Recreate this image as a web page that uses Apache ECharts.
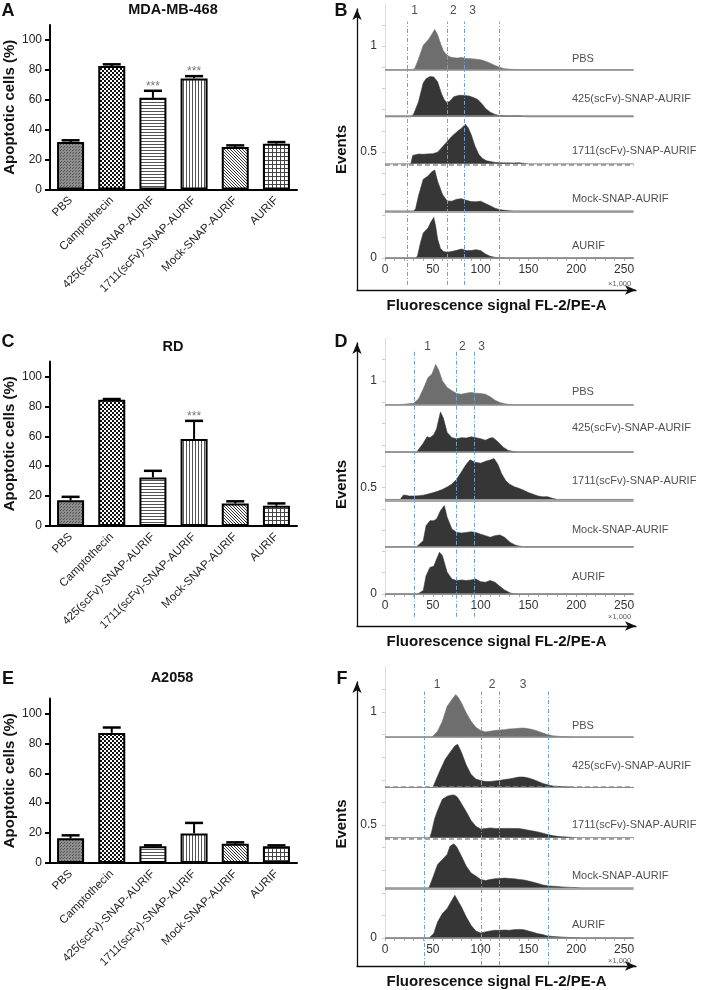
<!DOCTYPE html>
<html>
<head>
<meta charset="utf-8">
<script src="https://cdn.jsdelivr.net/npm/echarts@6/dist/echarts.min.js"></script>
<style>
  html, body { margin: 0; padding: 0; background: #fff; }
  #chart { width: 704px; height: 990px; }
</style>
</head>
<body>
<div id="chart"></div>
<script>
// ---- bar panels (A, C, E) ----
const treatments = ['PBS', 'Camptothecin', '425(scFv)-SNAP-AURIF', '1711(scFv)-SNAP-AURIF', 'Mock-SNAP-AURIF', 'AURIF'];
const yTicks = [0, 20, 40, 60, 80, 100];

const mdaMean = [31.7, 82.6, 61.3, 74.3, 28.4, 30.6];
const mdaErr = [1.2, 1.1, 4.7, 1.5, 1.1, 1.1];
const mdaSig = ['', '', '***', '***', '', ''];

const rdMean = [17.2, 84.4, 32.5, 58.2, 15, 13.5];
const rdErr = [2.3, 0.5, 4.4, 12.1, 1.5, 1.6];
const rdSig = ['', '', '', '***', '', ''];

const a2058Mean = [16.5, 87, 11.2, 19.8, 12.8, 11.2];
const a2058Err = [2, 3.6, 0.6, 7, 1, 0.6];
const a2058Sig = ['', '', '', '', '', ''];

// ---- histogram panels (B, D, F) ----
const histNames = ['PBS', '425(scFv)-SNAP-AURIF', '1711(scFv)-SNAP-AURIF', 'Mock-SNAP-AURIF', 'AURIF'];
const histOffsets = [0.888, 0.666, 0.444, 0.222, 0];
const xTicks = [0, 50, 100, 150, 200, 250];
const eventTicks = [0, 0.5, 1];

// [fluorescence (x1,000), height]
const bPBS = [[0,0],[28,0],[31,0.005],[35,0.05],[40,0.115],[45,0.14],[48,0.16],[52,0.19],[55,0.165],[58,0.125],[61,0.09],[64,0.072],[68,0.06],[72,0.057],[76,0.055],[80,0.058],[85,0.053],[90,0.052],[95,0.05],[100,0.047],[105,0.04],[110,0.031],[115,0.02],[120,0.011],[125,0.005],[132,0.002],[140,0],[260,0]];
const b425 = [[0,0],[27,0],[30,0.013],[35,0.07],[40,0.16],[43,0.18],[47,0.19],[51,0.188],[55,0.165],[59,0.11],[62,0.08],[65,0.066],[68,0.075],[72,0.095],[78,0.102],[83,0.1],[88,0.098],[93,0.09],[97,0.082],[101,0.063],[105,0.04],[110,0.022],[115,0.011],[120,0.006],[130,0.004],[140,0.005],[146,0.001],[150,0],[260,0]];
const b1711 = [[0,0],[27,0],[29,0.04],[35,0.046],[40,0.045],[45,0.047],[50,0.048],[55,0.055],[60,0.08],[65,0.105],[70,0.13],[75,0.15],[80,0.168],[84,0.187],[87,0.17],[90,0.14],[94,0.085],[98,0.045],[102,0.025],[106,0.015],[110,0.011],[115,0.007],[120,0.005],[135,0.004],[140,0.005],[146,0.002],[150,0],[260,0]];
const bMock = [[0,0],[30,0],[32,0.01],[35,0.07],[40,0.149],[45,0.165],[49,0.185],[52,0.193],[55,0.14],[60,0.079],[65,0.047],[70,0.046],[75,0.055],[80,0.058],[85,0.05],[90,0.044],[95,0.043],[100,0.046],[105,0.035],[110,0.024],[115,0.013],[120,0.006],[125,0.003],[130,0.001],[135,0],[260,0]];
const bAURIF = [[0,0],[32,0],[34,0.01],[37,0.07],[40,0.118],[45,0.141],[48,0.17],[51,0.191],[53,0.15],[55,0.09],[58,0.045],[61,0.031],[65,0.027],[70,0.031],[75,0.036],[80,0.042],[85,0.035],[90,0.035],[95,0.039],[100,0.035],[105,0.019],[110,0.008],[115,0.003],[120,0.001],[125,0],[260,0]];

const dPBS = [[0,0],[15,0],[20,0.003],[25,0.005],[30,0.007],[35,0.027],[40,0.074],[45,0.128],[49,0.144],[53,0.19],[56,0.165],[60,0.113],[65,0.081],[70,0.066],[75,0.053],[80,0.05],[85,0.055],[90,0.058],[95,0.055],[100,0.053],[105,0.05],[110,0.038],[115,0.022],[120,0.011],[125,0.005],[130,0.002],[135,0],[260,0]];
const d425 = [[0,0],[33,0],[35,0.008],[40,0.042],[44,0.072],[47,0.068],[51,0.082],[54,0.11],[58,0.188],[61,0.16],[65,0.092],[70,0.068],[75,0.063],[80,0.068],[85,0.066],[90,0.072],[95,0.068],[100,0.063],[105,0.056],[110,0.066],[113,0.068],[118,0.049],[124,0.022],[129,0.008],[135,0.002],[140,0],[260,0]];
const d1711 = [[0,0],[16,0],[19,0.02],[22,0.02],[25,0.016],[30,0.016],[35,0.017],[40,0.02],[45,0.025],[50,0.031],[55,0.038],[60,0.047],[65,0.058],[70,0.072],[75,0.095],[80,0.13],[85,0.165],[89,0.186],[94,0.175],[100,0.17],[106,0.18],[110,0.185],[114,0.192],[118,0.165],[122,0.12],[126,0.09],[130,0.072],[135,0.06],[140,0.052],[145,0.043],[150,0.032],[155,0.024],[160,0.016],[165,0.012],[170,0.013],[175,0.005],[180,0],[260,0]];
const dMock = [[0,0],[33,0],[35,0.008],[40,0.028],[43,0.099],[47,0.122],[51,0.122],[54,0.13],[58,0.169],[62,0.193],[65,0.138],[70,0.083],[75,0.067],[80,0.064],[85,0.067],[90,0.07],[95,0.067],[100,0.059],[105,0.052],[110,0.044],[115,0.052],[120,0.055],[125,0.044],[131,0.02],[136,0.008],[140,0.003],[145,0],[260,0]];
const dAURIF = [[0,0],[34,0],[36,0.003],[40,0.016],[43,0.086],[47,0.125],[51,0.13],[54,0.164],[57,0.196],[60,0.18],[65,0.102],[70,0.07],[75,0.063],[80,0.066],[85,0.063],[90,0.066],[95,0.07],[100,0.058],[105,0.055],[110,0.063],[115,0.055],[120,0.036],[125,0.019],[131,0.005],[135,0],[260,0]];

const fPBS = [[0,0],[49,0],[51,0.005],[55,0.027],[60,0.071],[65,0.137],[70,0.167],[74,0.189],[77,0.174],[80,0.152],[85,0.108],[90,0.071],[95,0.044],[100,0.03],[105,0.024],[110,0.027],[115,0.03],[120,0.032],[125,0.034],[130,0.037],[135,0.038],[140,0.04],[145,0.041],[150,0.038],[155,0.034],[160,0.027],[165,0.019],[170,0.012],[175,0.007],[180,0.005],[185,0.003],[190,0.002],[200,0],[260,0]];
const f425 = [[0,0],[50,0],[52,0.006],[57,0.07],[63,0.125],[68,0.155],[73,0.184],[76,0.191],[80,0.155],[85,0.099],[90,0.058],[95,0.037],[100,0.031],[105,0.026],[110,0.026],[115,0.029],[120,0.031],[125,0.035],[130,0.038],[135,0.042],[140,0.046],[145,0.046],[150,0.042],[155,0.035],[160,0.027],[165,0.018],[170,0.012],[175,0.007],[180,0.005],[185,0.004],[190,0.003],[196,0.001],[200,0],[260,0]];
const f1711 = [[0,0],[47,0],[49,0.03],[52,0.085],[55,0.12],[60,0.17],[65,0.183],[70,0.189],[73,0.188],[76,0.178],[80,0.15],[85,0.115],[90,0.076],[95,0.05],[100,0.038],[105,0.04],[110,0.043],[115,0.041],[120,0.04],[125,0.041],[130,0.041],[135,0.04],[140,0.04],[145,0.037],[150,0.033],[155,0.029],[160,0.025],[165,0.02],[170,0.014],[175,0.009],[180,0.006],[185,0.004],[190,0.003],[196,0.001],[200,0],[260,0]];
const fMock = [[0,0],[46,0],[47,0.007],[50,0.045],[55,0.103],[60,0.125],[65,0.148],[68,0.184],[72,0.195],[75,0.181],[80,0.14],[85,0.096],[90,0.066],[95,0.052],[100,0.037],[105,0.032],[110,0.037],[115,0.04],[120,0.041],[125,0.043],[130,0.041],[135,0.04],[140,0.037],[145,0.035],[150,0.03],[155,0.025],[160,0.019],[165,0.013],[170,0.009],[175,0.007],[180,0.006],[185,0.004],[190,0.003],[195,0.002],[200,0.001],[205,0],[260,0]];
const fAURIF = [[0,0],[46,0],[48,0.003],[51,0.02],[55,0.071],[60,0.108],[65,0.13],[70,0.167],[73,0.189],[77,0.159],[80,0.137],[85,0.093],[90,0.056],[95,0.031],[100,0.022],[105,0.027],[110,0.031],[115,0.034],[120,0.034],[125,0.035],[130,0.034],[135,0.037],[140,0.038],[145,0.037],[150,0.031],[155,0.025],[160,0.019],[165,0.015],[170,0.009],[175,0.007],[180,0.005],[185,0.004],[190,0.003],[195,0.002],[200,0.001],[205,0],[260,0]];

// gate positions and region labels (x1,000)
const gatesB = [23.5, 65.4, 83.2, 119.4];
const gateLabelsB = [31.5, 72, 92];
const gatesD = [31, 74, 93.5];
const gateLabelsD = [45, 81.5, 101.5];
const gatesF = [41, 101, 120, 171];
const gateLabelsF = [55, 112.5, 145];

const labelYB = [0.936, 0.749, 0.501, 0.275, 0.053];
const labelYD = [0.945, 0.775, 0.527, 0.3, 0.077];
const labelYF = [0.935, 0.758, 0.497, 0.271, 0.054];

const font = '"Liberation Sans", Arial, sans-serif';

// hatch fills for the bars
function pattern(size, bg, fg, draw) {
  const c = document.createElement('canvas');
  c.width = size;
  c.height = size;
  const g = c.getContext('2d');
  g.fillStyle = bg;
  g.fillRect(0, 0, size, size);
  g.fillStyle = fg;
  draw(g, size);
  return { image: c, repeat: 'repeat' };
}
const fills = [
  pattern(3, '#8e8e8e', '#555', (g) => { g.fillRect(0, 0, 1, 1); g.fillRect(1, 2, 1, 1); }),
  pattern(4, '#fff', '#111', (g) => { g.fillRect(0, 0, 2, 2); g.fillRect(2, 2, 2, 2); }),
  pattern(3, '#fff', '#555', (g) => { g.fillRect(0, 0, 3, 1); }),
  pattern(3, '#fff', '#555', (g) => { g.fillRect(0, 0, 1, 3); }),
  pattern(3, '#fff', '#333', (g) => { for (let i = 0; i < 3; i++) g.fillRect(i, i, 1, 1); }),
  pattern(4, '#fff', '#444', (g) => { g.fillRect(0, 0, 4, 1); g.fillRect(0, 0, 1, 4); })
];

const grid = [];
const xAxis = [];
const yAxis = [];
const series = [];

function addBarPanel(top, mean, err, sig) {
  const gi = grid.length;
  grid.push({ left: 50, top: top, width: 247, height: 164.5 });
  xAxis.push({
    gridIndex: gi, type: 'category', data: treatments,
    axisLine: { lineStyle: { color: '#000', width: 2 } },
    axisTick: { alignWithLabel: true, length: 5, lineStyle: { color: '#000', width: 2 } },
    axisLabel: { rotate: 45, interval: 0, fontSize: 11.5, color: '#222', margin: 9, fontFamily: font }
  });
  yAxis.push({
    gridIndex: gi, type: 'value', min: 0, max: 110,
    axisLine: { show: true, lineStyle: { color: '#000', width: 2 } },
    axisTick: { show: true, length: 5, customValues: yTicks, lineStyle: { color: '#000', width: 2 } },
    axisLabel: { customValues: yTicks, fontSize: 12, color: '#222', margin: 8, fontFamily: font },
    splitLine: { show: false },
    name: 'Apoptotic cells (%)', nameLocation: 'middle', nameGap: 33,
    nameTextStyle: { fontFamily: font, fontWeight: 'bold', fontSize: 15, color: '#111' }
  });
  series.push({
    type: 'bar', xAxisIndex: gi, yAxisIndex: gi, barWidth: 27, silent: true,
    itemStyle: { borderColor: '#000', borderWidth: 2 },
    data: mean.map((v, i) => ({ value: v, itemStyle: { color: fills[i] } }))
  });
  series.push({
    type: 'custom', xAxisIndex: gi, yAxisIndex: gi, z: 5, silent: true,
    data: mean.map((v, i) => [i, v, err[i]]),
    renderItem: (params, api) => {
      const base = api.coord([api.value(0), api.value(1)]);
      const top = api.coord([api.value(0), api.value(1) + api.value(2)]);
      const kids = [
        { type: 'line', shape: { x1: base[0], y1: base[1], x2: top[0], y2: top[1] }, style: { stroke: '#000', lineWidth: 2 } },
        { type: 'line', shape: { x1: top[0] - 9, y1: top[1], x2: top[0] + 9, y2: top[1] }, style: { stroke: '#000', lineWidth: 2.5 } }
      ];
      const s = sig[params.dataIndex];
      if (s) {
        kids.push({ type: 'text', style: { text: s, x: top[0], y: top[1] - 4, align: 'center', verticalAlign: 'middle', fill: '#777', font: '12px ' + font } });
      }
      return { type: 'group', children: kids };
    }
  });
}

// y0: pixel row of value 0, unit: pixels per 1.0 on the Events axis
function addHistPanel(outer, y0, unit, hists, labelY, gates, gateRange, gateLabels, gateLabelY, kiloY, dashed) {
  const go = grid.length;
  grid.push(outer);
  const arrowLine = { show: true, symbol: ['none', 'arrow'], symbolSize: [7, 11], lineStyle: { color: '#111', width: 1.3 } };
  xAxis.push({
    gridIndex: go, type: 'value', min: 0, max: 1,
    axisLine: arrowLine, axisTick: { show: false }, axisLabel: { show: false }, splitLine: { show: false },
    name: 'Fluorescence signal FL-2/PE-A', nameLocation: 'middle', nameGap: 8,
    nameTextStyle: { fontFamily: font, fontWeight: 'bold', fontSize: 15, color: '#111', verticalAlign: 'top' }
  });
  yAxis.push({
    gridIndex: go, type: 'value', min: 0, max: 1,
    axisLine: arrowLine, axisTick: { show: false }, axisLabel: { show: false }, splitLine: { show: false },
    name: 'Events', nameLocation: 'middle', nameGap: 8,
    nameTextStyle: { fontFamily: font, fontWeight: 'bold', fontSize: 15, color: '#111' }
  });

  // data grid: Events 0..1.2
  const gi = grid.length;
  grid.push({ left: 385, width: 248.6, top: y0 - 1.2 * unit, height: 1.2 * unit });
  xAxis.push({
    gridIndex: gi, type: 'value', min: 0, max: 260,
    axisLine: { show: true, lineStyle: { color: '#999', width: 1 } },
    axisTick: { show: true, length: 3, customValues: [0, 10, 20, 30, 40, 50, 60, 70, 80, 90, 100, 110, 120, 130, 140, 150, 160, 170, 180, 190, 200, 210, 220, 230, 240, 250], lineStyle: { color: '#aaa' } },
    axisLabel: { customValues: xTicks, fontSize: 12, color: '#333', margin: 6, fontFamily: font },
    splitLine: { show: false }
  });
  yAxis.push({
    gridIndex: gi, type: 'value', min: 0, max: 1.2,
    axisLine: { show: true, lineStyle: { color: '#ddd', width: 1 } },
    axisTick: { show: true, length: 3, customValues: [0, 0.1, 0.2, 0.3, 0.4, 0.5, 0.6, 0.7, 0.8, 0.9, 1, 1.1], lineStyle: { color: '#ccc' } },
    axisLabel: { customValues: eventTicks, fontSize: 12, color: '#333', margin: 8, fontFamily: font },
    splitLine: { show: false }
  });

  // overlay grid reaching below the axis, for the gate lines
  const gv = grid.length;
  grid.push({ left: 385, width: 248.6, top: y0 - 1.2 * unit, height: 1.33 * unit });
  xAxis.push({ gridIndex: gv, type: 'value', min: 0, max: 260, show: false });
  yAxis.push({ gridIndex: gv, type: 'value', min: -0.13, max: 1.2, show: false });

  // lowest strip first, so upper strips sit on top
  for (let k = hists.length - 1; k >= 0; k--) {
    const base = histOffsets[k];
    const col = k === 0 ? '#6e6e6e' : '#363636';
    series.push({
      type: 'line', xAxisIndex: gi, yAxisIndex: gi, silent: true,
      symbol: 'none', showSymbol: false,
      data: hists[k].map((p) => [p[0], base + p[1]]),
      lineStyle: { color: col, width: 0.6 },
      areaStyle: { color: col, opacity: 1, origin: base },
      markLine: {
        silent: true, symbol: 'none', label: { show: false },
        lineStyle: { color: '#8a8a8a', width: 1.5, type: dashed.indexOf(k) >= 0 ? [5, 3] : 'solid' },
        data: [{ yAxis: base }]
      }
    });
  }

  series.push({
    type: 'scatter', xAxisIndex: gi, yAxisIndex: gi, silent: true, symbolSize: 1,
    itemStyle: { color: 'rgba(0,0,0,0)' },
    data: histNames.map((n, k) => ({ name: n, value: [196, labelY[k]] })),
    label: { show: true, position: [0, 0], align: 'left', verticalAlign: 'middle', formatter: '{b}', fontSize: 11, color: '#222', fontFamily: font }
  });

  series.push({
    type: 'scatter', xAxisIndex: gv, yAxisIndex: gv, silent: true, symbolSize: 1,
    itemStyle: { color: 'rgba(0,0,0,0)' },
    data: gateLabels.map((x, i) => ({ name: String(i + 1), value: [x, gateLabelY] })),
    label: { show: true, position: [0, 0], align: 'center', verticalAlign: 'middle', formatter: '{b}', fontSize: 12, color: '#222', fontFamily: font },
    markLine: {
      silent: true, symbol: 'none', label: { show: false },
      lineStyle: { color: '#6a9fd8', width: 1, type: [4, 2, 1, 2] },
      data: gates.map((g) => [{ coord: [g, gateRange[0]] }, { coord: [g, gateRange[1]] }])
    }
  });

  series.push({
    type: 'scatter', xAxisIndex: gv, yAxisIndex: gv, silent: true, symbolSize: 1,
    itemStyle: { color: 'rgba(0,0,0,0)' },
    data: [{ name: '\u00d71,000', value: [258, kiloY] }],
    label: { show: true, position: [0, 0], align: 'right', verticalAlign: 'middle', formatter: '{b}', fontSize: 7.5, color: '#333', fontFamily: font }
  });
}

addBarPanel(25, mdaMean, mdaErr, mdaSig);
addBarPanel(361.5, rdMean, rdErr, rdSig);
addBarPanel(698.5, a2058Mean, a2058Err, a2058Sig);

addHistPanel({ left: 357, top: 9, width: 279, height: 281 }, 258, 212,
  [bPBS, b425, b1711, bMock, bAURIF], labelYB, gatesB, [-0.127, 1.115], gateLabelsB, 1.165, -0.123, [2]);
addHistPanel({ left: 357, top: 343, width: 279, height: 283 }, 594, 213,
  [dPBS, d425, d1711, dMock, dAURIF], labelYD, gatesD, [-0.107, 1.138], gateLabelsD, 1.161, -0.108, []);
addHistPanel({ left: 357, top: 682, width: 279, height: 286 }, 938, 226,
  [fPBS, f425, f1711, fMock, fAURIF], labelYF, gatesF, [-0.12, 1.09], gateLabelsF, 1.12, -0.104, [1, 2]);

function txt(x, y, text, size) {
  return { type: 'text', x: x, y: y, silent: true, style: { text: text, align: 'center', verticalAlign: 'middle', font: 'bold ' + size + 'px ' + font, fill: '#111' } };
}

const chart = echarts.init(document.getElementById('chart'));
chart.setOption({
  animation: false,
  backgroundColor: '#fff',
  grid: grid,
  xAxis: xAxis,
  yAxis: yAxis,
  series: series,
  graphic: [
    txt(8, 11, 'A', 18), txt(341, 11, 'B', 18),
    txt(8, 342, 'C', 18), txt(341, 342, 'D', 18),
    txt(8, 679, 'E', 18), txt(342, 679, 'F', 18),
    txt(173, 10, 'MDA-MB-468', 14.5), txt(173, 347, 'RD', 14.5), txt(172, 678, 'A2058', 14.5)
  ]
});
</script>
</body>
</html>
